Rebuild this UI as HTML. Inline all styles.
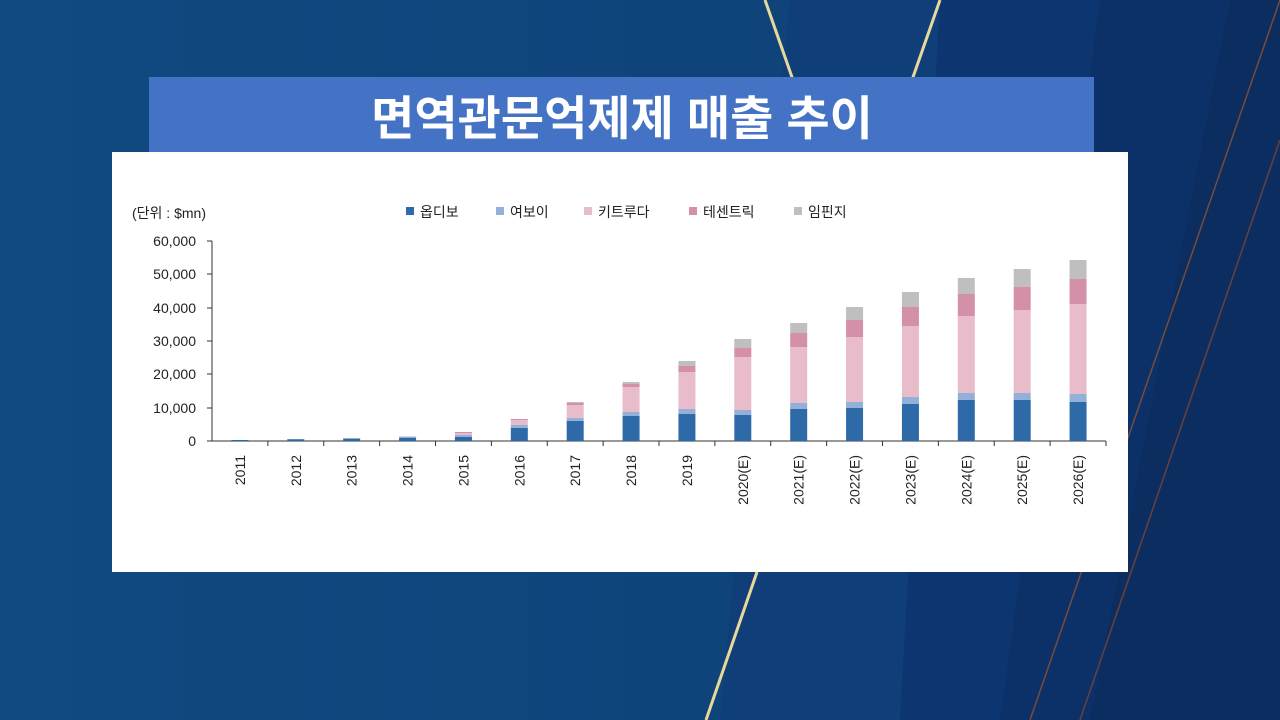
<!DOCTYPE html>
<html><head><meta charset="utf-8"><style>
body{margin:0;width:1280px;height:720px;overflow:hidden;font-family:"Liberation Sans","Noto Sans CJK KR",sans-serif;}
</style></head><body>
<svg width="1280" height="720" xmlns="http://www.w3.org/2000/svg" style="position:absolute;left:0;top:0">
<defs>
<linearGradient id="bg" x1="0" y1="0" x2="1" y2="0"><stop offset="0" stop-color="#104a80"/><stop offset="1" stop-color="#0e3f76"/></linearGradient>
</defs>
<rect width="1280" height="720" fill="url(#bg)"/>
<polygon points="790,0 1280,0 1280,720 720,720" fill="#0f3e78"/>
<polygon points="940,0 1280,0 1280,720 900,720" fill="#0d3670"/>
<polygon points="1100,0 1280,0 1280,720 1000,720" fill="#0c3168"/>
<polygon points="1230,0 1280,0 1280,720 1090,720" fill="#0b2d60"/>
<line x1="765" y1="0" x2="793" y2="80" stroke="#e8d89a" stroke-width="3"/>
<line x1="940" y1="0" x2="912" y2="80" stroke="#e8d89a" stroke-width="3"/>
<line x1="757" y1="572" x2="706" y2="720" stroke="#e8d89a" stroke-width="3"/>
<line x1="1280" y1="0" x2="1030" y2="720" stroke="#7a4a3a" stroke-width="1.5"/>
<line x1="1280" y1="140" x2="1080" y2="720" stroke="#6a4038" stroke-width="1.5"/>
<rect x="149" y="77" width="945" height="76" fill="#4472c4"/>
<text x="622" y="135" text-anchor="middle" fill="#fff" font-size="47" font-weight="bold" font-family="Liberation Sans,Noto Sans CJK KR,sans-serif">면역관문억제제 매출 추이</text>
<rect x="112" y="152" width="1016" height="420" fill="#fff"/>
<g font-size="14" fill="#222" font-family="Liberation Sans,Noto Sans CJK KR,sans-serif">
<text x="132" y="218">(단위 : $mn)</text>
<rect x="406" y="207" width="8" height="8" fill="#2e6aa8"/><text x="420" y="217">옵디보</text>
<rect x="496" y="207" width="8" height="8" fill="#93b0d8"/><text x="510" y="217">여보이</text>
<rect x="584" y="207" width="8" height="8" fill="#e8bccb"/><text x="598" y="217">키트루다</text>
<rect x="689" y="207" width="8" height="8" fill="#d390a8"/><text x="703" y="217">테센트릭</text>
<rect x="794" y="207" width="8" height="8" fill="#bfbfbf"/><text x="808" y="217">임핀지</text>
<g text-anchor="end">
<text x="196" y="246">60,000</text><text x="196" y="279">50,000</text><text x="196" y="313">40,000</text>
<text x="196" y="346">30,000</text><text x="196" y="379">20,000</text><text x="196" y="413">10,000</text><text x="196" y="446">0</text>
</g>
</g>
<g stroke="#333" stroke-width="1">
<line x1="212" y1="241" x2="212" y2="441"/>
<line x1="212" y1="441" x2="1106" y2="441"/>
<line x1="207" y1="241" x2="212" y2="241"/><line x1="207" y1="274" x2="212" y2="274"/><line x1="207" y1="308" x2="212" y2="308"/><line x1="207" y1="341" x2="212" y2="341"/><line x1="207" y1="374" x2="212" y2="374"/><line x1="207" y1="408" x2="212" y2="408"/><line x1="207" y1="441" x2="212" y2="441"/>
</g>
<g id="bars"></g>
<g id="ticks" stroke="#333"></g>
<g id="labels" font-size="14" fill="#222" font-family="Liberation Sans,sans-serif"></g>
</svg>
<script>
var d=[[440,440,440,440,440],[439.5,439,439,439,439],[439,438,438,438,438],[438,436.5,436.5,436.5,436.5],[437,435,433,432,432],[428,425,420,419,419],[421,418,405,403,402],[416,412,387,384,382],[414,409,372,366,361],[415,410,357,348,339],[409,403,347,333,323],[408,402,337,320,307],[404,397,326,307,292],[400,393,316,294,278],[400,393,310,287,269],[402,394,304,279,260]];
var c=["#2e6aa8","#93b0d8","#e8bccb","#d390a8","#bfbfbf"];
var lab=["2011","2012","2013","2014","2015","2016","2017","2018","2019","2020(E)","2021(E)","2022(E)","2023(E)","2024(E)","2025(E)","2026(E)"];
var ns="http://www.w3.org/2000/svg",b=document.getElementById("bars"),t=document.getElementById("ticks"),L=document.getElementById("labels");
var w=(1106-212)/16;
for(var i=0;i<16;i++){var cx=212+w*(i+0.5),prev=441;
for(var k=0;k<5;k++){var y=d[i][k];if(prev-y>0){var r=document.createElementNS(ns,"rect");r.setAttribute("x",cx-8.5);r.setAttribute("width",17);r.setAttribute("y",y);r.setAttribute("height",prev-y);r.setAttribute("fill",c[k]);b.appendChild(r);}prev=y;}
var l=document.createElementNS(ns,"line");l.setAttribute("x1",212+w*(i+1));l.setAttribute("x2",212+w*(i+1));l.setAttribute("y1",441);l.setAttribute("y2",446);t.appendChild(l);
var tx=document.createElementNS(ns,"text");tx.setAttribute("transform","translate("+(cx+5)+",455) rotate(-90)");tx.setAttribute("text-anchor","end");tx.textContent=lab[i];L.appendChild(tx);}
</script>
</body></html>
